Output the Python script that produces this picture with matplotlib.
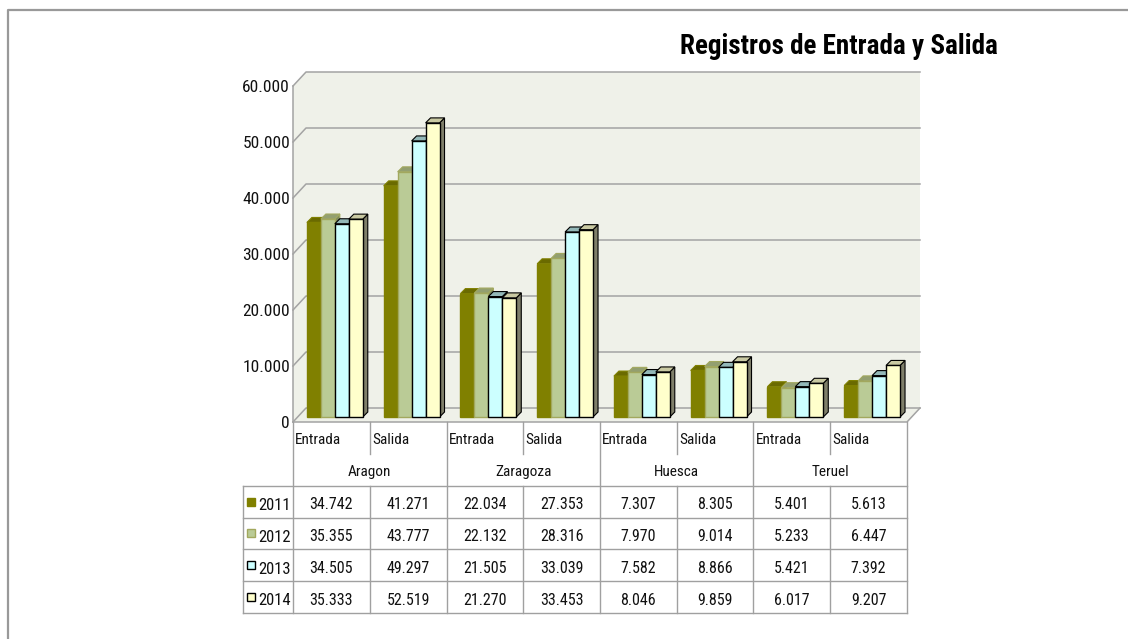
import matplotlib
matplotlib.use("Agg")
import matplotlib.pyplot as plt
from matplotlib.patches import Polygon
from matplotlib import font_manager

# ---------------- data ----------------
regions = ["Aragon", "Zaragoza", "Huesca", "Teruel"]
kinds = ["Entrada", "Salida"]
years = ["2011", "2012", "2013", "2014"]
v2011 = [34742, 41271, 22034, 27353, 7307, 8305, 5401, 5613]
v2012 = [35355, 43777, 22132, 28316, 7970, 9014, 5233, 6447]
v2013 = [34505, 49297, 21505, 33039, 7582, 8866, 5421, 7392]
v2014 = [35333, 52519, 21270, 33453, 8046, 9859, 6017, 9207]
y_ticks = [0, 10000, 20000, 30000, 40000, 50000, 60000]
title = "Registros de Entrada y Salida"

series = [v2011, v2012, v2013, v2014]
face = ["#808000", "#BACB96", "#CCFFFF", "#FFFFCC"]
topc = ["#6A6A00", "#939F70", "#93B8B8", "#C9C9A2"]
sidec = ["#5A5A00", "#7E8A5E", "#7A9A9A", "#7F7F6A"]
edgec = ["#808000", "#A2A85E", "#000000", "#000000"]

avail = {f.name for f in font_manager.fontManager.ttflist}
FONT = "DejaVu Sans"
for cand in ["Roboto Condensed", "Open Sans Condensed", "Liberation Sans Narrow",
             "Noto Sans Condensed", "Roboto", "Liberation Sans"]:
    if cand in avail:
        FONT = cand
        break
plt.rcParams["font.family"] = [FONT, "DejaVu Sans"]

def fmt(v):
    return f"{v:,}".replace(",", ".")

W, H = 1139, 639
fig = plt.figure(figsize=(W / 100, H / 100), dpi=100)
fig.patch.set_facecolor("white")

# outer frame
frame = fig.add_axes([0, 0, 1, 1])
frame.set_xlim(0, W)
frame.set_ylim(H, 0)
frame.axis("off")
frame.plot([8, 8, 1128], [H, 10, 10], color="#999999", lw=1.6, solid_capstyle="butt")

# ---------------- main plot (bar plane) ----------------
L, R, T, B = 298, 912, 81, 417
ax = fig.add_axes([L / W, 1 - B / H, (R - L) / W, (B - T) / H])
ax.set_xlim(0, 8)
ax.set_ylim(0, 60000)
ax.axis("off")
px = 8 / (R - L)
py = 60000 / (B - T)
fx, fy = -5 * px, -5 * py      # front plane offset
bx, by = 8 * px, 9 * py        # back plane offset
wall = "#EFF1E9"
grid = "#A3A3A3"
ymax = y_ticks[-1]

ax.add_patch(Polygon([(bx, by), (8 + bx, by), (8 + bx, ymax + by), (bx, ymax + by)],
                     closed=True, fc=wall, ec="none", zorder=1, clip_on=False))
ax.add_patch(Polygon([(fx, fy), (bx, by), (bx, ymax + by), (fx, ymax + fy)],
                     closed=True, fc=wall, ec="none", zorder=1, clip_on=False))
ax.add_patch(Polygon([(fx, fy), (8 + fx, fy), (8 + bx, by), (bx, by)],
                     closed=True, fc=wall, ec="none", zorder=1, clip_on=False))
for v in y_ticks:
    ax.plot([fx, bx, 8 + bx], [v + fy, v + by, v + by], color=grid, lw=1.1, zorder=2, clip_on=False)
    ax.text(fx - 3 * px, v + fy - 2 * py, fmt(v), ha="right", va="center", fontsize=12.5,
            color="#111111", clip_on=False)
ax.plot([fx, fx], [fy, ymax + fy], color=grid, lw=1.1, zorder=2, clip_on=False)
ax.plot([fx, 8 + fx, 8 + bx], [fy, fy, by], color=grid, lw=1.1, zorder=2, clip_on=False)

# bars
bw = 0.182
dx, dy = 5 * px, 5 * py
xs = list(range(8))
for j, vals in enumerate(series):
    lefts = [k + 0.5 - 0.02 - 2 * bw + j * bw for k in xs]
    bars = ax.bar(lefts, vals, width=bw, align="edge", color=face[j], edgecolor=edgec[j],
                  linewidth=1.0, zorder=11 + 2 * j, clip_on=False)
    for b in bars:
        x0, w, h = b.get_x(), b.get_width(), b.get_height()
        x1 = x0 + w
        ax.add_patch(Polygon([(x1, 0), (x1 + dx, dy), (x1 + dx, h + dy), (x1, h)], closed=True,
                             fc=sidec[j], ec=edgec[j], lw=0.8, zorder=10 + 2 * j, clip_on=False))
        ax.add_patch(Polygon([(x0, h), (x1, h), (x1 + dx, h + dy), (x0 + dx, h + dy)], closed=True,
                             fc=topc[j], ec=edgec[j], lw=0.8, zorder=10 + 2 * j, clip_on=False))

# title
fig.text(998 / W, 1 - 46 / H, title, ha="right", va="center", fontsize=19.5,
         fontweight="bold", color="#000000")

# ---------------- data table ----------------
TL, TR, TT, TB = 243, 907, 422, 613
colw = (TR - 293) / 8
first = (293 - TL) / colw
tax = fig.add_axes([TL / W, 1 - TB / H, (TR - TL) / W, (TB - TT) / H])
tax.set_xlim(-first, 8)
tax.set_ylim(6, 0)
tax.axis("off")
lc = "#A0A0A0"
lw = 1.0
for yy in [2, 3, 4, 5, 6]:
    tax.plot([-first, 8], [yy, yy], color=lc, lw=lw, clip_on=False)
tax.plot([-first, -first], [2, 6], color=lc, lw=lw, clip_on=False)
for xx in range(9):
    if xx % 2 == 0:
        tax.plot([xx, xx], [0, 6], color=lc, lw=lw, clip_on=False)
    else:
        tax.plot([xx, xx], [0, 1.02], color=lc, lw=lw, clip_on=False)
        tax.plot([xx, xx], [2, 6], color=lc, lw=lw, clip_on=False)

fs = 11.5
for k in xs:
    tax.text(k + 0.03, 0.57, kinds[k % 2], ha="left", va="center", fontsize=fs - 0.5, color="#111111")
for r, name in enumerate(regions):
    tax.text(2 * r + 1, 1.57, name, ha="center", va="center", fontsize=fs - 0.5, color="#111111")
for j, vals in enumerate(series):
    yy = 2.6 + j
    for k in xs:
        tax.text(k + 0.5, yy, fmt(vals[k]), ha="center", va="center", fontsize=fs, color="#111111")
    tax.plot([-first + 0.11], [yy - 0.1], marker="s", ms=5.5, mfc=face[j], mec=edgec[j],
             mew=1.0, clip_on=False)
    tax.text(-first + 0.2, yy + 0.02, years[j], ha="left", va="center", fontsize=fs + 0.5,
             color="#111111")

fig.savefig("out.png", dpi=100, facecolor="white")
